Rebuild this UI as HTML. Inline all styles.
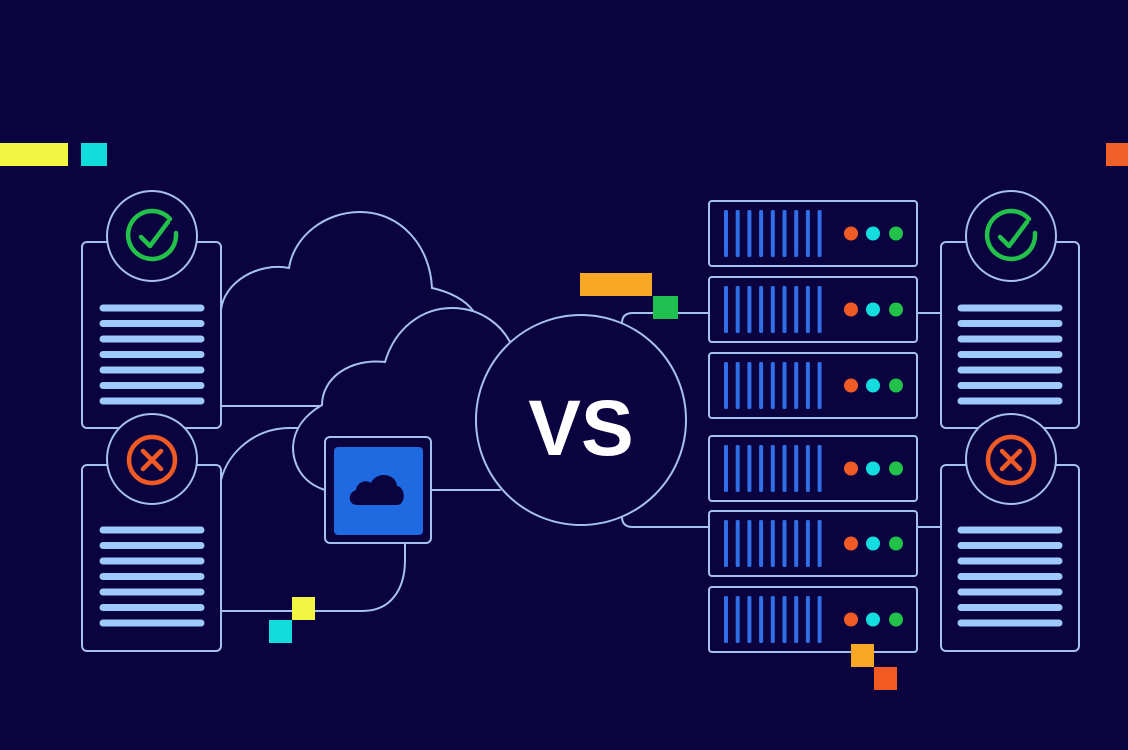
<!DOCTYPE html>
<html><head><meta charset="utf-8"><style>
html,body{margin:0;padding:0;background:#0b0340;}
svg{display:block}
</style></head><body>
<svg width="1128" height="750" viewBox="0 0 1128 750" xmlns="http://www.w3.org/2000/svg">
<defs>
<g id="srv">
  <rect x="709" y="0" width="208" height="65" rx="3" fill="#0b0340" stroke="#a6c0f0" stroke-width="2"/>
  <g fill="#2f6fe8">
    <rect x="724" y="9" width="4" height="47" rx="1.5"/>
    <rect x="735.7" y="9" width="4" height="47" rx="1.5"/>
    <rect x="747.4" y="9" width="4" height="47" rx="1.5"/>
    <rect x="759.1" y="9" width="4" height="47" rx="1.5"/>
    <rect x="770.8" y="9" width="4" height="47" rx="1.5"/>
    <rect x="782.5" y="9" width="4" height="47" rx="1.5"/>
    <rect x="794.2" y="9" width="4" height="47" rx="1.5"/>
    <rect x="805.9" y="9" width="4" height="47" rx="1.5"/>
    <rect x="817.6" y="9" width="4" height="47" rx="1.5"/>
  </g>
  <circle cx="851" cy="32.5" r="7" fill="#f05a24"/>
  <circle cx="873" cy="32.5" r="7" fill="#14dde0"/>
  <circle cx="896" cy="32.5" r="7" fill="#22c24a"/>
</g>
</defs>
<rect width="1128" height="750" fill="#0b0340"/>

<!-- back cloud -->
<path d="M221,310 C224,282 258,262 289,268 C294,236 325,212 360,212 C400,212 430,245 432,288 C450,292 466,300 474,312 L520,360 L470,405 L221,405 Z" fill="#0b0340"/>
<g fill="none" stroke="#a6c0f0" stroke-width="2" stroke-linecap="round">
  <path d="M221,310 C224,282 258,262 289,268 C294,236 325,212 360,212 C400,212 430,245 432,288 C450,292 466,300 474,312"/>
  <path d="M221,480 C228,452 255,428 290,428 L305,428"/>
  <path d="M221,611 L363,611 C390,611 405,590 405,560 L405,543"/>
  <path d="M221,406 L322,406"/>
</g>
<!-- front cloud -->
<path d="M322,405 C322,378 350,358 385,362 C395,328 422,308 452,308 C482,308 503,326 512,346 L520,490 L325,490 C300,482 293,462 293,447 C294,428 305,415 322,405 Z" fill="#0b0340"/>
<g fill="none" stroke="#a6c0f0" stroke-width="2" stroke-linecap="round">
  <path d="M325,490 C300,482 293,462 293,447 C294,428 305,415 322,405 C322,378 350,358 385,362 C395,328 422,308 452,308 C482,308 503,326 512,346"/>
  <path d="M431,490 L500,490"/>
  <path d="M622,323 C622,316 626,313 633,313 L709,313"/>
  <path d="M622,517 C622,524 626,527 633,527 L709,527"/>
  <path d="M917,313 L941,313 M917,527 L941,527"/>
</g>
<circle cx="581" cy="420" r="105" fill="#0b0340" stroke="#a6c0f0" stroke-width="2"/>
<rect x="325" y="437" width="106" height="106" rx="5" fill="#0b0340" stroke="#a6c0f0" stroke-width="2"/>
<rect x="334" y="447" width="89" height="88" rx="4" fill="#1f6ae0"/>
<path d="M357,505 C348,505 347,493 356,490 C357,482 366,479 371,483 C376,471 396,473 397,486 C406,487 406,505 397,505 Z" fill="#0b0340"/>
<text x="581" y="455" text-anchor="middle" font-family="Liberation Sans, sans-serif" font-weight="bold" font-size="79" fill="#ffffff">VS</text>

<!-- documents -->
<g fill="#0b0340" stroke="#a6c0f0" stroke-width="2">
  <rect x="82" y="242" width="139" height="186" rx="5"/>
  <circle cx="152" cy="236" r="45"/>
  <rect x="82" y="465" width="139" height="186" rx="5"/>
  <circle cx="152" cy="459" r="45"/>
  <rect x="941" y="242" width="138" height="186" rx="5"/>
  <circle cx="1011" cy="236" r="45"/>
  <rect x="941" y="465" width="138" height="186" rx="5"/>
  <circle cx="1011" cy="459" r="45"/>
</g>
<g stroke="#9ec9fb" stroke-width="7" stroke-linecap="round">
  <path d="M103,308H201M103,323.5H201M103,339H201M103,354.5H201M103,370H201M103,385.5H201M103,401H201"/>
  <path d="M103,530H201M103,545.5H201M103,561H201M103,576.5H201M103,592H201M103,607.5H201M103,623H201"/>
  <path d="M961,308H1059M961,323.5H1059M961,339H1059M961,354.5H1059M961,370H1059M961,385.5H1059M961,401H1059"/>
  <path d="M961,530H1059M961,545.5H1059M961,561H1059M961,576.5H1059M961,592H1059M961,607.5H1059M961,623H1059"/>
</g>
<g fill="none" stroke="#22c24a" stroke-width="4.5" stroke-linecap="round" stroke-linejoin="round">
  <path d="M170,219 A24,24 0 1 0 176,233"/>
  <path d="M141,237 L150,246 L168,222"/>
  <path d="M1029,219 A24,24 0 1 0 1035,233"/>
  <path d="M1000,237 L1009,246 L1027,222"/>
</g>
<g fill="none" stroke="#f05a24" stroke-width="4.5" stroke-linecap="round">
  <circle cx="152" cy="460" r="23"/>
  <path d="M143,451 L161,469 M161,451 L143,469"/>
  <circle cx="1011" cy="460" r="23"/>
  <path d="M1002,451 L1020,469 M1020,451 L1002,469"/>
</g>

<!-- servers -->
<use href="#srv" y="201"/>
<use href="#srv" y="277"/>
<use href="#srv" y="353"/>
<use href="#srv" y="436"/>
<use href="#srv" y="511"/>
<use href="#srv" y="587"/>

<!-- accent squares -->
<rect x="0" y="143" width="68" height="23" fill="#f3f542"/>
<rect x="81" y="143" width="26" height="23" fill="#13dcdc"/>
<rect x="1106" y="143" width="22" height="23" fill="#f2612a"/>
<rect x="580" y="273" width="72" height="23" fill="#f9a825"/>
<rect x="653" y="296" width="25" height="23" fill="#1fc04f"/>
<rect x="292" y="597" width="23" height="23" fill="#f3f542"/>
<rect x="269" y="620" width="23" height="23" fill="#13dcdc"/>
<rect x="851" y="644" width="23" height="23" fill="#f9a825"/>
<rect x="874" y="667" width="23" height="23" fill="#f25a22"/>
</svg>
</body></html>
